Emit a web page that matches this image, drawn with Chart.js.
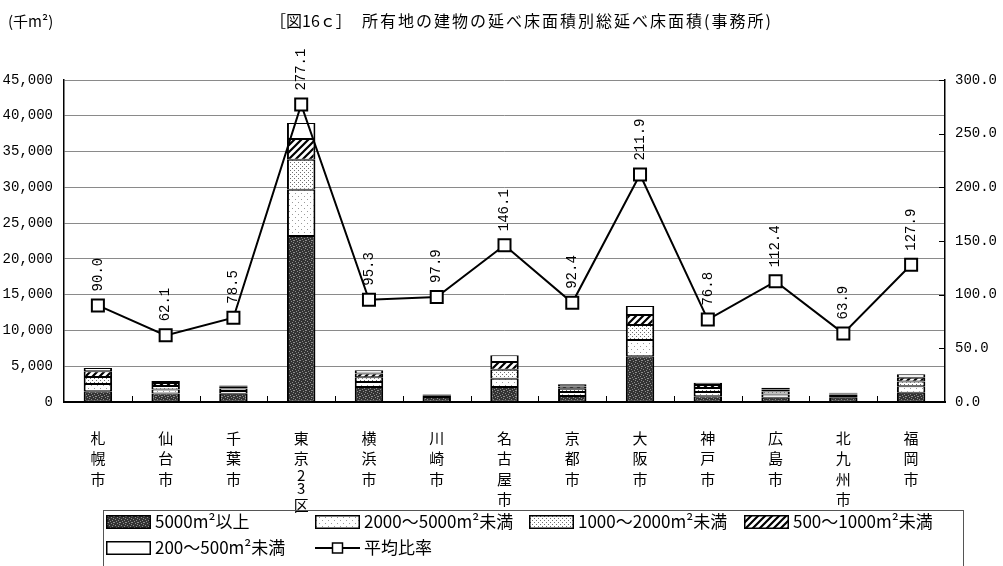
<!DOCTYPE html>
<html lang="ja">
<head>
<meta charset="utf-8">
<title>所有地の建物の延べ床面積別総延べ床面積(事務所)</title>
<script src="https://cdn.jsdelivr.net/npm/chart.js@4.4.1/dist/chart.umd.min.js"></script>
<style>
  html, body { margin: 0; padding: 0; background: #fff; }
  #wrap { width: 1003px; height: 566px; position: relative; }
  canvas { display: block; }
</style>
</head>
<body>
<div id="wrap"><canvas id="chart" width="1003" height="566"></canvas></div>
<script>
// 都市別・延べ床面積規模別の総延べ床面積（千m²）と平均比率
const cities = ['札幌市', '仙台市', '千葉市', '東京23区', '横浜市', '川崎市', '名古屋市',
                '京都市', '大阪市', '神戸市', '広島市', '北九州市', '福岡市'];

const over5000   = [1500, 1200, 1150, 23200, 2100, 700, 2100, 850, 6400, 800, 600, 600, 1300];
const from2000   = [1000,  550,  400,  6450,  700, 150, 1150, 550, 2250, 600, 450, 250,  900];
const from1000   = [1000,  500,  330,  4200,  650, 100, 1250, 450, 2100, 550, 400, 200,  650];
const from500    = [ 800,  400,  250,  2900,  550,  70, 1100, 330, 1400, 420, 300, 140,  550];
const from200    = [ 450,  300,  190,  2250,  450,  60,  950, 290, 1250, 330, 250, 110,  470];
const avgRatio   = [90.0, 62.1, 78.5, 277.1, 95.3, 97.9, 146.1, 92.4, 211.9, 76.8, 112.4, 63.9, 127.9];

const leftTicks  = [0, 5000, 10000, 15000, 20000, 25000, 30000, 35000, 40000, 45000];
const rightTicks = [0, 50, 100, 150, 200, 250, 300];

const seriesNames = ['5000m²以上', '2000～5000m²未満', '1000～2000m²未満', '500～1000m²未満', '200～500m²未満', '平均比率'];

const CJK  = '"Noto Sans CJK JP", "Noto Sans", sans-serif';
const MONO = '"Liberation Mono", "DejaVu Sans Mono", monospace';

// ---- fill patterns for the stacked segments ----
function makePattern(size, paint) {
  const c = document.createElement('canvas');
  c.width = size; c.height = size;
  const g = c.getContext('2d');
  paint(g, size);
  return g.createPattern(c, 'repeat');
}
const darkStipple = makePattern(6, (g) => {
  g.fillStyle = '#333'; g.fillRect(0, 0, 6, 6);
  g.fillStyle = '#8c8c8c';
  [[0,0],[3,1],[1,3],[4,4],[2,5],[5,2],[5,0]].forEach(([x, y]) => g.fillRect(x, y, 1, 1));
});
const sparseDots = makePattern(6, (g) => {
  g.fillStyle = '#fff'; g.fillRect(0, 0, 6, 6);
  g.fillStyle = '#9a9a9a';
  [[1,1],[4,4]].forEach(([x, y]) => g.fillRect(x, y, 1, 1));
});
const denseDots = makePattern(4, (g) => {
  g.fillStyle = '#fff'; g.fillRect(0, 0, 4, 4);
  g.fillStyle = '#6f6f6f';
  [[0,0],[2,2]].forEach(([x, y]) => g.fillRect(x, y, 1, 1));
});
const hatch = makePattern(7, (g) => {
  g.fillStyle = '#fff'; g.fillRect(0, 0, 7, 7);
  g.strokeStyle = '#000'; g.lineWidth = 2.2;
  g.beginPath();
  g.moveTo(-1, 8); g.lineTo(8, -1);
  g.moveTo(-2, 2); g.lineTo(2, -2);
  g.moveTo(5, 9); g.lineTo(9, 5);
  g.stroke();
});
const fills = [darkStipple, sparseDots, denseDots, hatch, '#ffffff'];
const barSeries = [over5000, from2000, from1000, from500, from200];

const barBorder = { left: 2, right: 2, top: 1, bottom: 1 };

const datasets = barSeries.map((vals, i) => ({
  type: 'bar',
  label: seriesNames[i],
  data: vals,
  backgroundColor: fills[i],
  borderColor: '#000',
  borderWidth: barBorder,
  borderSkipped: false,
  stack: 'area',
  yAxisID: 'y',
  order: 1,
  categoryPercentage: 0.42,
  barPercentage: 1.0
}));
datasets.push({
  type: 'line',
  label: seriesNames[5],
  data: avgRatio,
  yAxisID: 'y2',
  borderColor: '#000',
  borderWidth: 2,
  tension: 0,
  pointStyle: 'rect',
  pointRadius: 8.5,
  pointBackgroundColor: '#fff',
  pointBorderColor: '#000',
  pointBorderWidth: 2,
  order: 0
});
const LINE_INDEX = datasets.length - 1;

// vertical (one character per line) category names under each tick
function drawVerticalLabel(ctx, text, cx, top) {
  let y = top;
  let prevH = null;
  for (const ch of text) {
    const h = /[0-9]/.test(ch) ? 13 : 20.5;
    if (prevH !== null) y += (prevH + h) / 2;
    ctx.fillText(ch, cx, y);
    prevH = h;
  }
}

// ---- extra drawing: titles, inner tick marks, value labels, legend ----
const decor = {
  id: 'decor',
  beforeDraw(chart) {
    const ctx = chart.ctx;
    ctx.save();
    ctx.fillStyle = '#fff';
    ctx.fillRect(0, 0, chart.width, chart.height);
    ctx.restore();
  },
  afterDatasetsDraw(chart) {
    const ctx = chart.ctx;
    const meta = chart.getDatasetMeta(LINE_INDEX);
    ctx.save();
    ctx.fillStyle = '#000';
    ctx.font = '14px ' + MONO;
    ctx.textAlign = 'left';
    ctx.textBaseline = 'middle';
    meta.data.forEach((pt, i) => {
      ctx.save();
      ctx.translate(pt.x, pt.y - 14);
      ctx.rotate(-Math.PI / 2);
      ctx.fillText(avgRatio[i].toFixed(1), 0, 0);
      ctx.restore();
    });
    ctx.restore();
  },
  afterDraw(chart) {
    const ctx = chart.ctx;
    const { x, y2 } = chart.scales;
    const area = chart.chartArea;
    ctx.save();
    ctx.fillStyle = '#000';
    ctx.textBaseline = 'middle';
    ctx.textAlign = 'left';

    // unit and title
    ctx.font = '15px ' + CJK;
    ctx.fillText('(千m²)', 8, 21);
    ctx.font = '16px ' + CJK;
    ctx.fillText('［図16ｃ］', 270, 21);
    ctx.letterSpacing = '2px';
    ctx.fillText('所有地の建物の延べ床面積別総延べ床面積(事務所)', 362, 21);
    ctx.letterSpacing = '0px';

    // category names
    ctx.textAlign = 'center';
    ctx.font = '15px ' + CJK;
    cities.forEach((name, i) => {
      drawVerticalLabel(ctx, name, x.getPixelForTick(i), area.bottom + 36);
    });
    ctx.textAlign = 'left';

    // small inward ticks at category boundaries
    ctx.strokeStyle = '#000';
    ctx.lineWidth = 1;
    ctx.beginPath();
    for (let i = 1; i < cities.length; i++) {
      const px = Math.round(x.getPixelForValue(i - 0.5)) + 0.5;
      ctx.moveTo(px, area.bottom);
      ctx.lineTo(px, area.bottom - 6);
    }
    // inward ticks on the right axis
    rightTicks.forEach((v) => {
      const py = Math.round(y2.getPixelForValue(v)) + 0.5;
      ctx.moveTo(area.right, py);
      ctx.lineTo(area.right - 6, py);
    });
    ctx.stroke();

    // legend
    const cols = [106, 315, 529, 744];
    const rows = [522, 548];
    const slots = [[0,0],[0,1],[0,2],[0,3],[1,0],[1,1]];
    const sw = 45, sh = 14;
    ctx.strokeStyle = '#555';
    ctx.lineWidth = 1;
    ctx.strokeRect(103.5, 510.5, 860, 70);
    ctx.font = '17px ' + CJK;
    slots.forEach(([r, c], i) => {
      const lx = cols[c], ly = rows[r];
      if (i < LINE_INDEX) {
        ctx.fillStyle = fills[i];
        ctx.fillRect(lx, ly - sh / 2, sw, sh);
        ctx.strokeStyle = '#000';
        ctx.lineWidth = 1.5;
        ctx.strokeRect(lx + 0.75, ly - sh / 2 + 0.75, sw - 1.5, sh - 1.5);
      } else {
        ctx.strokeStyle = '#000';
        ctx.lineWidth = 2;
        ctx.beginPath();
        ctx.moveTo(lx, ly); ctx.lineTo(lx + sw, ly);
        ctx.stroke();
        ctx.fillStyle = '#fff';
        ctx.fillRect(lx + sw / 2 - 5, ly - 5, 10, 10);
        ctx.lineWidth = 1.5;
        ctx.strokeRect(lx + sw / 2 - 5, ly - 5, 10, 10);
      }
      ctx.fillStyle = '#000';
      ctx.fillText(seriesNames[i], lx + sw + 4, ly);
    });
    ctx.restore();
  }
};

Chart.defaults.color = '#000';
Chart.defaults.font.family = CJK;

new Chart(document.getElementById('chart'), {
  data: {
    labels: cities,
    datasets
  },
  options: {
    responsive: false,
    animation: false,
    devicePixelRatio: 1,
    layout: { padding: { top: 80, left: 0, right: 0, bottom: 0 } },
    plugins: {
      legend: { display: false },
      tooltip: { enabled: false },
      title: { display: false }
    },
    scales: {
      x: {
        stacked: true,
        grid: { display: true, drawOnChartArea: false, drawTicks: false },
        border: { display: true, color: '#000', width: 2 },
        ticks: { display: false },
        afterFit: (s) => { s.height = 164; }
      },
      y: {
        stacked: true,
        min: 0,
        max: 45000,
        afterBuildTicks: (s) => { s.ticks = leftTicks.map((v) => ({ value: v })); },
        ticks: {
          padding: 11,
          color: '#000',
          font: { family: MONO, size: 14 },
          callback: (v) => Number(v).toLocaleString('en-US')
        },
        grid: { color: '#8a8a8a', lineWidth: 1, drawTicks: false },
        border: { display: true, color: '#000', width: 1.5 },
        afterFit: (s) => { s.width = 64; }
      },
      y2: {
        position: 'right',
        min: 0,
        max: 300,
        afterBuildTicks: (s) => { s.ticks = rightTicks.map((v) => ({ value: v })); },
        ticks: {
          padding: 10,
          color: '#000',
          font: { family: MONO, size: 14 },
          callback: (v) => Number(v).toFixed(1)
        },
        grid: { drawOnChartArea: false, drawTicks: false },
        border: { display: true, color: '#000', width: 1.5 },
        afterFit: (s) => { s.width = 58; }
      }
    }
  },
  plugins: [decor]
});
</script>
</body>
</html>
